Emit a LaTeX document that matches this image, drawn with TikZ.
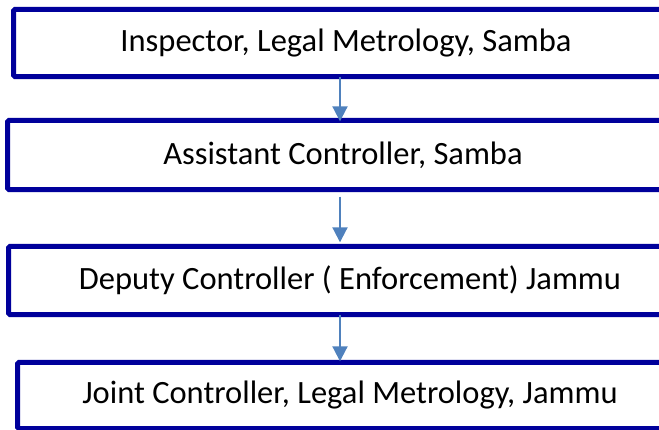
\documentclass[tikz,border=0pt]{standalone}
\usepackage{fontspec}
\setmainfont{Carlito}
\usetikzlibrary{arrows.meta}
\definecolor{navy}{RGB}{0,0,155}
\definecolor{arrowblue}{RGB}{79,129,189}
\tikzset{
  box/.style={draw=none, inner sep=0pt, anchor=west, minimum width=700pt},
  border/.style={draw=navy, line width=5pt, rounded corners=1.5pt},
  lbl/.style={font=\fontsize{32.5}{36}\selectfont, text=black, inner sep=0pt},
  arr/.style={draw=arrowblue, line width=2pt, -{Triangle[width=15pt,length=15pt]}}
}
\begin{document}
\begin{tikzpicture}[x=1pt,y=-1pt]
\useasboundingbox (0,0) rectangle (659,429);
\node[box, minimum height=67pt] (b1) at (13.5,43) {};
\node[box, minimum height=69pt] (b2) at (7.5,155) {};
\node[box, minimum height=68pt] (b3) at (8.5,280.5) {};
\node[box, minimum height=66pt] (b4) at (17.5,395.5) {};
\foreach \b in {b1,b2,b3,b4}
  \draw[border] (\b.north east) -- (\b.north west) -- (\b.south west) -- (\b.south east);
\node[lbl] (t1) at (346,43) {Inspector, Legal Metrology, Samba};
\node[lbl] (t2) at (343,155) {Assistant Controller, Samba};
\node[lbl] (t3) at (350,280.5) {Deputy Controller ( Enforcement) Jammu};
\node[lbl] (t4) at (350,395.5) {Joint Controller, Legal Metrology, Jammu};
\coordinate (ax) at (340,0);
\draw[arr] (b1.south -| ax) -- ([yshift=-1pt]b2.north -| ax);
\draw[arr, shorten <=7pt, shorten >=4pt] (b2.south -| ax) -- (b3.north -| ax);
\draw[arr] (b3.south -| ax) -- ([yshift=1pt]b4.north -| ax);
\end{tikzpicture}
\end{document}
